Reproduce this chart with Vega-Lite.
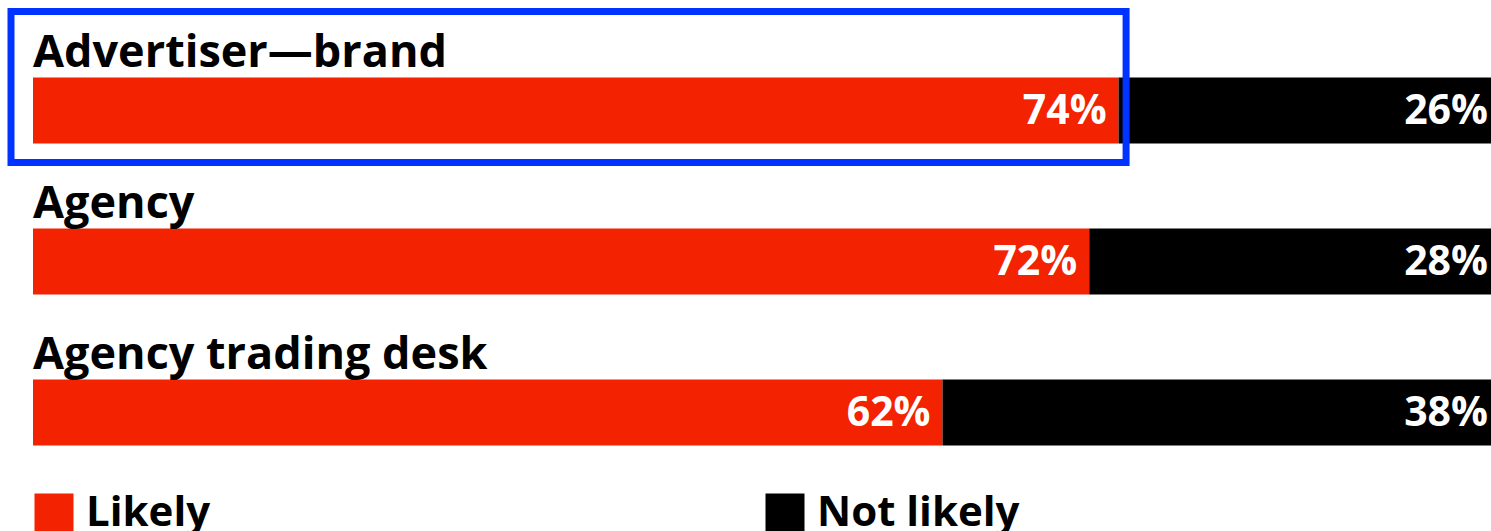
{
  "$schema": "https://vega.github.io/schema/vega-lite/v6.json",
  "autosize": "none",
  "width": 1491,
  "height": 531,
  "padding": 0,
  "background": "white",
  "config": {"view": {"stroke": null}, "font": "Open Sans"},
  "data": {
    "values": [
      {"category": "Advertiser—brand", "response": "Likely", "value": 74},
      {"category": "Advertiser—brand", "response": "Not likely", "value": 26},
      {"category": "Agency", "response": "Likely", "value": 72},
      {"category": "Agency", "response": "Not likely", "value": 28},
      {"category": "Agency trading desk", "response": "Likely", "value": 62},
      {"category": "Agency trading desk", "response": "Not likely", "value": 38}
    ]
  },
  "transform": [
    {"stack": "value", "groupby": ["category"], "sort": [{"field": "response"}], "as": ["x0", "x1"]},
    {"calculate": "datum.value + '%'", "as": "label"}
  ],
  "encoding": {
    "y": {
      "field": "category",
      "type": "nominal",
      "sort": ["Advertiser—brand", "Agency", "Agency trading desk"],
      "scale": {"type": "band", "range": [13.5, 466.5], "paddingInner": 0, "paddingOuter": 0},
      "axis": null
    }
  },
  "layer": [
    {
      "mark": {"type": "bar", "size": 66, "yOffset": 21.5},
      "encoding": {
        "x": {"field": "x0", "type": "quantitative", "scale": {"domain": [0, 100], "range": [33, 1500], "nice": false, "zero": false}, "axis": null},
        "x2": {"field": "x1"},
        "color": {
          "field": "response",
          "type": "nominal",
          "scale": {"domain": ["Likely", "Not likely"], "range": ["#F32200", "#000000"]},
          "legend": {
            "title": null,
            "orient": "none",
            "legendX": 33,
            "legendY": 492,
            "direction": "horizontal",
            "columns": 2,
            "gridAlign": "all",
            "columnPadding": 475,
            "padding": 0,
            "symbolType": "square",
            "symbolSize": 1521,
            "symbolStrokeWidth": 0,
            "symbolOpacity": 1,
            "labelFont": "Open Sans",
            "labelFontSize": 42,
            "labelFontWeight": "bold",
            "labelColor": "#000000",
            "labelOffset": 11,
            "labelLimit": 400
          }
        }
      }
    },
    {
      "mark": {"type": "text", "align": "right", "baseline": "alphabetic", "dx": -12, "yOffset": 34.5, "color": "white", "fontSize": 41, "fontWeight": "bold", "font": "Open Sans"},
      "encoding": {
        "x": {"field": "x1", "type": "quantitative"},
        "text": {"field": "label", "type": "nominal"}
      }
    },
    {
      "transform": [{"filter": "datum.response === 'Likely'"}],
      "mark": {"type": "text", "align": "left", "baseline": "alphabetic", "yOffset": -22.5, "color": "black", "fontSize": 45, "fontWeight": "bold", "font": "Open Sans"},
      "encoding": {
        "x": {"datum": 0, "type": "quantitative"},
        "text": {"field": "category", "type": "nominal"}
      }
    },
    {
      "transform": [{"filter": "datum.category === 'Advertiser—brand' && datum.response === 'Likely'"}],
      "mark": {"type": "rect", "filled": false, "stroke": "#0033FF", "strokeWidth": 7, "xOffset": -22, "x2Offset": 7.5, "yOffset": -2},
      "encoding": {
        "x": {"field": "x0", "type": "quantitative"},
        "x2": {"field": "x1"}
      }
    }
  ]
}
